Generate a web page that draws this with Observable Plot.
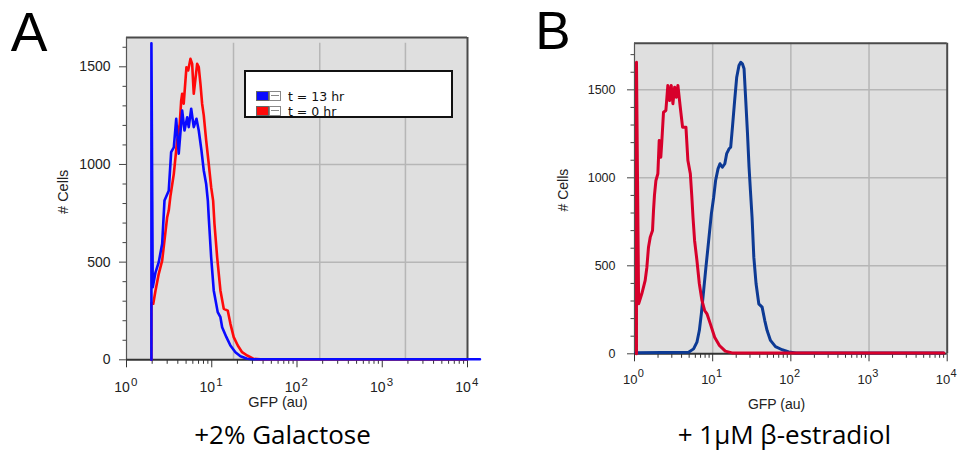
<!DOCTYPE html>
<html>
<head>
<meta charset="utf-8">
<script src="https://cdn.jsdelivr.net/npm/d3@7"></script>
<script src="https://cdn.jsdelivr.net/npm/@observablehq/plot@0.6"></script>
<style>
  html, body { margin: 0; padding: 0; background: #fff; }
  #fig { position: relative; width: 960px; height: 457px; overflow: hidden; background: #fff; }
  .panel { position: absolute; top: 0; width: 480px; height: 457px; }
  #panelA { left: 0; }
  #panelB { left: 480px; }
  .legend { position: absolute; left: 244px; top: 70px; width: 205px; height: 44px; border: 2px solid #111; background: #fff; font-family: "DejaVu Sans", sans-serif; font-size: 12.5px; color: #111; }
  .row { position: absolute; left: 10px; height: 11px; }
  .sw { position: absolute; left: 0; top: 0; width: 13px; height: 10px; border: 1px solid #666; box-sizing: border-box; }
  .bx { position: absolute; left: 13px; top: 0; width: 12px; height: 10px; border: 1px solid #888; box-sizing: border-box; background: #fff; }
  .bx::after { content: ""; position: absolute; left: 1px; right: 1px; top: 3px; height: 0; border-top: 1px solid #888; }
  .lbl { position: absolute; left: 32px; top: -1px; white-space: nowrap; line-height: 13px; }
</style>
</head>
<body>
<div id="fig">
  <div id="panelA" class="panel"></div>
  <div id="panelB" class="panel"></div>
</div>
<script>
// ---------- data ----------
const decades = [1, 10, 100, 1000, 10000];
const yMajor = [0, 500, 1000, 1500];
const yMinorA = [100, 200, 300, 400, 600, 700, 800, 900, 1100, 1200, 1300, 1400, 1600];
const yMinorB = [100, 200, 300, 400, 600, 700, 800, 900, 1100, 1200, 1300, 1400, 1600, 1700];
const minorMultipliers = [2, 3, 4, 5, 6, 7, 8, 9];

// Panel A: +2% Galactose
const seriesNamesA = ["t = 13 hr", "t = 0 hr"];
const aBlueGfp = [1.96, 1.96, 2.03, 2.19, 2.39, 2.62, 2.79, 3.13, 3.34, 3.59, 3.83, 4.10, 4.50, 4.79, 5.15, 5.37, 5.74, 6.15, 6.62, 7.04, 7.57, 8.06, 8.60, 9.0, 9.22, 9.84, 10.55, 11.75, 12.64, 13.24, 14.86, 16.56, 18.95, 21.7, 26.0, 30.8, 14000];
const aBlueCells = [0, 1620, 372, 448, 500, 594, 815, 866, 1063, 1088, 1234, 1055, 1276, 1174, 1242, 1191, 1285, 1191, 1234, 1174, 1072, 969, 900, 815, 730, 525, 355, 244, 218, 167, 116, 73, 39, 18, 5, 3, 3];
const aRedGfp = [1.96, 1.96, 2.06, 2.19, 2.39, 2.62, 2.79, 3.00, 3.13, 3.28, 3.59, 3.93, 4.21, 4.38, 4.50, 4.69, 5.05, 5.29, 5.63, 5.89, 6.15, 6.74, 7.04, 7.37, 7.71, 8.06, 8.60, 9.22, 9.84, 10.38, 10.76, 11.57, 12.64, 13.83, 15.40, 16.56, 18.1, 20.2, 22.7, 26.0, 31.1, 37.2, 10000];
const aRedCells = [0, 290, 287, 355, 440, 508, 611, 730, 764, 840, 952, 1123, 1208, 1327, 1362, 1311, 1498, 1481, 1541, 1515, 1362, 1515, 1498, 1413, 1311, 1251, 1123, 1003, 884, 815, 696, 525, 355, 261, 252, 184, 116, 73, 39, 22, 5, 3, 3];
const gridXA = [18, 185, 1870];
const gridYA = [500, 1000];

// Panel B: + 1uM beta-estradiol
const bRedGfp = [1.06, 1.06, 1.13, 1.24, 1.37, 1.44, 1.51, 1.59, 1.70, 1.75, 1.80, 1.88, 1.99, 2.07, 2.17, 2.24, 2.35, 2.52, 2.67, 2.81, 2.95, 3.10, 3.26, 3.43, 3.59, 3.85, 4.12, 4.55, 4.82, 5.18, 5.40, 5.60, 5.87, 6.29, 6.75, 7.29, 7.89, 8.45, 9.34, 10.6, 12.2, 14.5, 17.7, 19.7, 9080];
const bRedCells = [0, 1657, 284, 341, 417, 492, 606, 663, 701, 814, 900, 985, 1023, 1212, 1117, 1212, 1373, 1383, 1525, 1439, 1525, 1421, 1515, 1458, 1525, 1401, 1288, 1288, 1098, 1023, 900, 776, 644, 530, 398, 303, 246, 227, 170, 94, 47, 15, 5, 4, 4];
const bBlueGfp = [1.04, 4.92, 5.70, 6.29, 6.75, 7.16, 7.67, 8.20, 8.89, 9.62, 10.3, 10.9, 11.7, 12.4, 13.3, 14.3, 15.1, 16.2, 17.0, 17.9, 19.1, 20.3, 21.7, 22.9, 24.0, 25.2, 26.5, 27.9, 29.2, 30.4, 31.9, 33.6, 35.9, 38.9, 42.9, 46.4, 49.7, 54.9, 63.6, 77.3, 94.3, 116, 9000];
const bBlueCells = [6, 9, 28, 66, 132, 227, 360, 492, 644, 795, 890, 985, 1051, 1080, 1060, 1080, 1137, 1165, 1174, 1288, 1439, 1572, 1638, 1657, 1648, 1620, 1439, 1250, 1060, 928, 776, 549, 398, 284, 265, 189, 132, 76, 41, 23, 11, 5, 5];
const gridXB = [10, 100, 1000];
const gridYB = [500, 1000, 1500];

// ---------- helpers ----------
const toRows = (g, c) => g.map((v, i) => ({gfp: v, cells: c[i]}));
const minorX = decades.slice(0, 4).flatMap(d => minorMultipliers.map(k => k * d));
const axisFont = "Liberation Sans, Arial, sans-serif";
const titleFont = "Open Sans, sans-serif";

function panel(cfg) {
  return Plot.plot({
    width: 480,
    height: 457,
    marginLeft: cfg.ml, marginRight: cfg.mr, marginTop: cfg.mt, marginBottom: cfg.mb,
    x: {type: "log", domain: [1, 10000]},
    y: {domain: [0, cfg.ymax]},
    style: {fontFamily: axisFont, color: "#222", background: "transparent", overflow: "visible"},
    marks: [
      Plot.frame({fill: "#dfdfdf", stroke: null}),
      Plot.ruleX(cfg.gridX, {y1: 0, y2: cfg.gridTop, stroke: "#b6b6b6", strokeWidth: 1.5}),
      Plot.ruleY(cfg.gridY, {x1: cfg.gridLeft, x2: 10000, stroke: "#b6b6b6", strokeWidth: 1.5}),
      Plot.ruleY([cfg.ymax], {stroke: "#4a4a4a", strokeWidth: 2}),
      Plot.ruleX([10000], {stroke: "#4a4a4a", strokeWidth: 2}),
      Plot.ruleX([1], {stroke: "#555", strokeWidth: 1.2}),
      Plot.axisY({ticks: cfg.yMinor, tickSize: 3.5, tickFormat: () => "", label: null, stroke: "#444"}),
      Plot.axisY({ticks: yMajor, tickSize: 7, tickPadding: cfg.tickPad, label: null, fontSize: cfg.yFont, stroke: "#444", tickFormat: d => String(d)}),
      Plot.axisX({ticks: minorX, tickSize: 4.5, tickFormat: () => "", label: null, stroke: "#333"}),
      Plot.axisX({ticks: decades, tickSize: 8, tickFormat: () => "", label: null, stroke: "#333"}),
      Plot.ruleY([0], {stroke: "#333", strokeWidth: 2}),
      Plot.text(decades, {x: d => d, text: () => "10", frameAnchor: "bottom", lineAnchor: "bottom", dx: cfg.baseDx, dy: cfg.baseDy, fontSize: cfg.xFont, textAnchor: "middle", fill: "#222"}),
      Plot.text(decades, {x: d => d, text: d => String(Math.round(Math.log10(d))), frameAnchor: "bottom", lineAnchor: "bottom", dx: cfg.expDx, dy: cfg.expDy, fontSize: cfg.expFont, textAnchor: "start", fill: "#222"}),
      Plot.text(["GFP (au)"], {text: d => d, frameAnchor: "bottom", lineAnchor: "bottom", dx: cfg.xlDx, dy: cfg.xlDy, fontSize: cfg.xlFont, fill: "#222"}),
      Plot.text(["# Cells"], {text: d => d, frameAnchor: "left", rotate: -90, dx: cfg.ylDx, dy: cfg.ylDy, fontSize: cfg.xlFont, fill: "#222"}),
      Plot.line(toRows(cfg.g1, cfg.c1), {x: "gfp", y: "cells", stroke: cfg.col1, strokeWidth: cfg.sw, strokeLinejoin: "round"}),
      Plot.line(toRows(cfg.g2, cfg.c2), {x: "gfp", y: "cells", stroke: cfg.col2, strokeWidth: cfg.sw, strokeLinejoin: "round"}),
      Plot.text([cfg.letter], {text: d => d, frameAnchor: "top-left", lineAnchor: "bottom", textAnchor: "middle", dx: cfg.letDx, dy: cfg.letDy, fontSize: cfg.letFont, fontFamily: axisFont, fill: "#000"}),
      Plot.text([cfg.caption], {text: d => d, frameAnchor: "bottom", lineAnchor: "bottom", dx: cfg.capDx, dy: cfg.capDy, fontSize: 26, fontFamily: titleFont, fill: "#000"})
    ]
  });
}

const A = panel({
  ml: 126, mr: 13, mt: 37, mb: 97.7, ymax: 1650,
  gridX: gridXA, gridTop: 1620, gridY: gridYA, gridLeft: 2.07,
  yMinor: yMinorA, tickPad: 9, yFont: 14,
  baseDx: -4.5, baseDy: 32.4, xFont: 14, expDx: 4.4, expDy: 25.7, expFont: 11.5,
  xlDx: -19, xlDy: 47.4, xlFont: 14.5, ylDx: -63, ylDy: 15.3,
  g1: aRedGfp, c1: aRedCells, col1: "#ff0a0a",
  g2: aBlueGfp, c2: aBlueCells, col2: "#0a0aff", sw: 2.6,
  letter: "A", letDx: -97.5, letDy: 13.5, letFont: 55,
  caption: "+2% Galactose", capDx: -14.5, capDy: 84
});
document.getElementById("panelA").appendChild(A);

const B = panel({
  ml: 154, mr: 13.3, mt: 42.7, mb: 103.7, ymax: 1765,
  gridX: gridXB, gridTop: 1765, gridY: gridYB, gridLeft: 1,
  yMinor: yMinorB, tickPad: 12, yFont: 12.5,
  baseDx: -4.3, baseDy: 30, xFont: 13, expDx: 3.2, expDy: 23.4, expFont: 11,
  xlDx: -14.3, xlDy: 55, xlFont: 14, ylDx: -71, ylDy: 13,
  g1: bBlueGfp, c1: bBlueCells, col1: "#0d3a94",
  g2: bRedGfp, c2: bRedCells, col2: "#d7002b", sw: 3,
  letter: "B", letDx: -81.5, letDy: 6, letFont: 53,
  caption: "+ 1μM β-estradiol", capDx: -6.5, capDy: 90
});
document.getElementById("panelB").appendChild(B);

// legend for panel A
const legendColors = ["#0a0aff", "#ff0a0a"];
const leg = document.createElement("div");
leg.className = "legend";
seriesNamesA.forEach((name, i) => {
  const row = document.createElement("div");
  row.className = "row";
  row.style.top = (19 + i * 14.7) + "px";
  row.innerHTML = `<div class="sw" style="background:${legendColors[i]}"></div><div class="bx"></div><div class="lbl">${name}</div>`;
  leg.appendChild(row);
});
document.getElementById("fig").appendChild(leg);
</script>
</body>
</html>
